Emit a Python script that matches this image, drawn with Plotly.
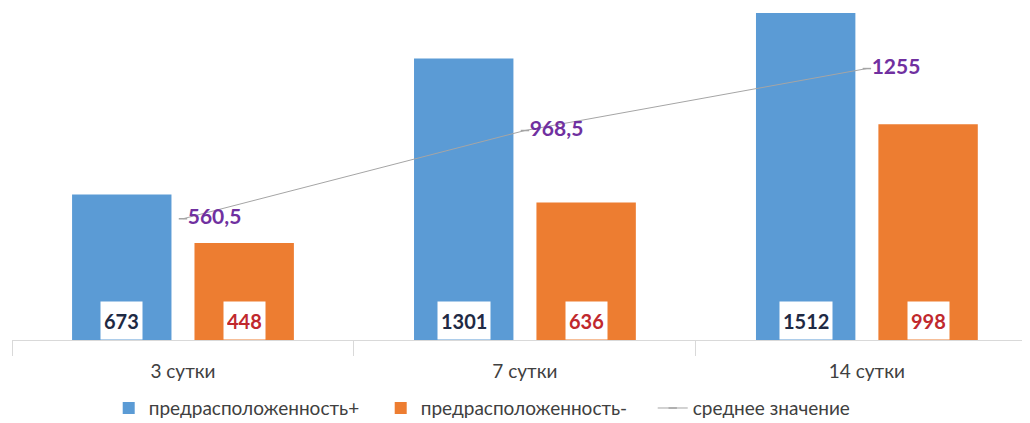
import plotly.graph_objects as go

categories = ["3 сутки", "7 сутки", "14 сутки"]
pos_values = [673, 1301, 1512]
neg_values = [448, 636, 998]
mean_values = [560.5, 968.5, 1255]
series_names = ["предрасположенность+", "предрасположенность-", "среднее значение"]

BLUE = "#5b9bd5"
ORANGE = "#ed7d31"
GREY = "#a5a5a5"
PURPLE = "#7030a0"
FONT = "Lato, 'Open Sans', sans-serif"

BARGAP = 0.284
BARGROUPGAP = 0.188
slot = (1 - BARGAP) / 2
offset = slot / 2


def fmt(v):
    s = ("%g" % v)
    return s.replace(".", ",")


fig = go.Figure()
fig.add_trace(go.Bar(x=categories, y=pos_values, name=series_names[0],
                     marker=dict(color=BLUE, line=dict(width=0))))
fig.add_trace(go.Bar(x=categories, y=neg_values, name=series_names[1],
                     marker=dict(color=ORANGE, line=dict(width=0))))
fig.add_trace(go.Scatter(x=categories, y=mean_values, name=series_names[2],
                         mode="lines+markers+text",
                         line=dict(color=GREY, width=1),
                         marker=dict(symbol="line-ew", size=6,
                                     line=dict(color=GREY, width=1.5)),
                         text=[fmt(v) for v in mean_values],
                         textposition="middle right",
                         textfont=dict(family=FONT, size=21, color=PURPLE, weight="bold")))

annotations = []
for i, (p, n) in enumerate(zip(pos_values, neg_values)):
    for val, sign, col in ((p, -1, "#1f2a44"), (n, 1, "#c0282d")):
        annotations.append(dict(
            x=i + sign * offset, y=0, xref="x", yref="y",
            text="<b>%s</b>" % fmt(val), showarrow=False,
            yanchor="bottom", xanchor="center",
            font=dict(family=FONT, size=20, color=col),
            bgcolor="white", borderpad=3, height=31,
        ))

# the page body has an 8px margin, so the figure is sized to fit the 1030x423 window
fig.update_layout(
    width=1022, height=415,
    margin=dict(l=4, r=0, t=0, b=83, autoexpand=False),
    paper_bgcolor="white", plot_bgcolor="white",
    barmode="group", bargap=BARGAP, bargroupgap=BARGROUPGAP,
    font=dict(family=FONT, color="#404040"),
    annotations=annotations,
    showlegend=True,
    legend=dict(orientation="h", x=0.095, xanchor="left", y=-0.148, yanchor="top",
                font=dict(family=FONT, size=19, color="#404040"),
                itemwidth=30, entrywidth=227, entrywidthmode="pixels",
                traceorder="normal"),
)
fig.update_xaxes(range=[-0.5, 2.477], showline=True, linecolor="#d9d9d9", linewidth=1,
                 ticks="outside", tickson="boundaries", ticklen=15, tickcolor="#d9d9d9",
                 ticklabelstandoff=14,
                 tickfont=dict(family=FONT, size=19, color="#404040"),
                 showgrid=False, zeroline=False)
fig.update_yaxes(range=[0, 1535], visible=False, showgrid=False, zeroline=False)

fig.write_html("out.html")
